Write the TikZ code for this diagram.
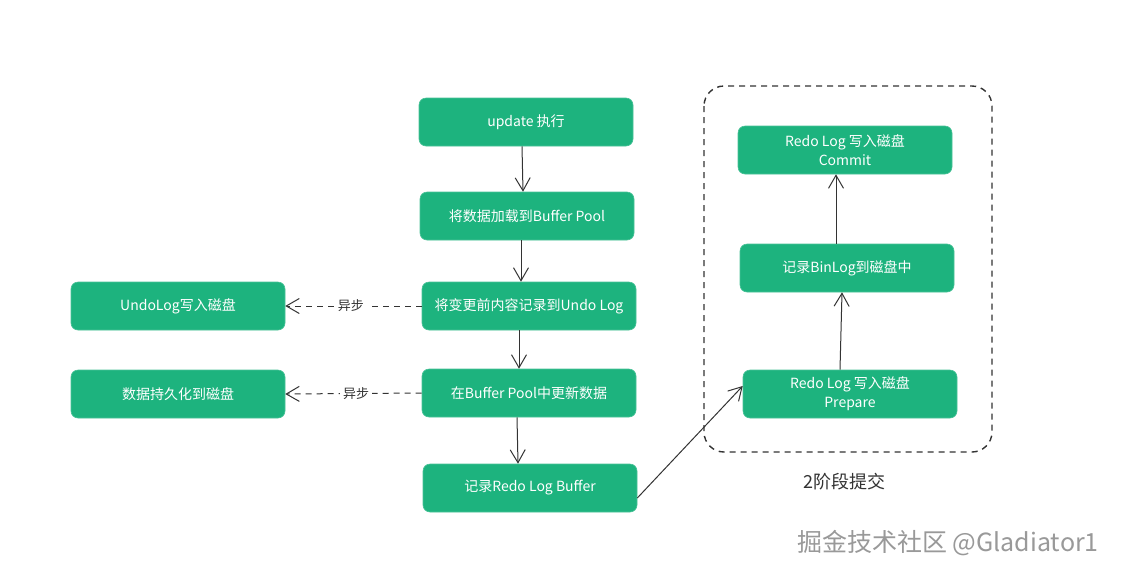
\documentclass[tikz,border=0pt]{standalone}
\usepackage{fontspec}
\setmainfont{Noto Sans CJK SC}
\usetikzlibrary{arrows.meta}
\definecolor{boxgreen}{HTML}{1DB37E}
\definecolor{linegray}{HTML}{333333}
\tikzset{
  stepbox/.style={draw=boxgreen!80!white, line width=0.6pt, fill=boxgreen, rounded corners=7pt,
    minimum width=214pt, minimum height=48pt, text=white, align=center,
    font=\fontsize{14}{18}\selectfont, inner sep=2pt},
  flow/.style={draw=linegray, line width=1pt, -{Straight Barb[length=13pt,width=15pt,line width=1pt]}},
  async/.style={flow, dash pattern=on 6pt off 5pt},
  lbl/.style={font=\fontsize{13}{15}\selectfont, text=linegray, fill=white, inner sep=3pt}
}
\begin{document}
\begin{tikzpicture}[x=1pt,y=-1pt]
\useasboundingbox (0,0) rectangle (1125,574);
\fill[white] (0,0) rectangle (1125,574);
% main column
\node[stepbox] (upd) at (526,122) {update 执行};
\node[stepbox] (load) at (527,216) {将数据加载到Buffer Pool};
\node[stepbox] (undo) at (529,306) {将变更前内容记录到Undo Log};
\node[stepbox] (upbuf) at (529,393) {在Buffer Pool中更新数据};
\node[stepbox] (redobuf) at (530,488) {记录Redo Log Buffer};
% left
\node[stepbox] (undodisk) at (178,306) {UndoLog写入磁盘};
\node[stepbox] (persist) at (178,394) {数据持久化到磁盘};
% right (2PC)
\node[stepbox] (commit) at (845,150) {Redo Log 写入磁盘\\[1pt]Commit};
\node[stepbox] (binlog) at (847,268) {记录BinLog到磁盘中};
\node[stepbox] (prepare) at (850,394) {Redo Log 写入磁盘\\[1pt]Prepare};
\draw[linegray, line width=1.4pt, dash pattern=on 6pt off 5pt, rounded corners=20pt]
  (704,86) rectangle (992,452);
\node[font=\fontsize{18}{21}\selectfont, text=linegray] (tpc) at (844,482) {2阶段提交};
% connectors
\draw[flow] ([xshift=-4pt]upd.south) -- ([xshift=-4pt]load.north);
\draw[flow] ([xshift=-6pt]load.south) -- ([xshift=-8pt]undo.north);
\draw[flow] ([xshift=-10pt]undo.south) -- ([xshift=-10pt]upbuf.north);
\draw[flow] ([xshift=-12pt]upbuf.south) -- ([xshift=-12pt]redobuf.north);
\draw[async] (undo.west) -- node[lbl, pos=0.52] (l1) {异步} (undodisk.east);
\draw[async] (upbuf.west) -- node[lbl, pos=0.48] (l2) {异步} (persist.east);
\draw[flow] ([yshift=-10pt]redobuf.east) -- ([yshift=8pt]prepare.west);
\draw[flow] ([xshift=-10pt]prepare.north) -- ([xshift=-5pt]binlog.south);
\draw[flow] ([xshift=-11pt]binlog.north) -- ([xshift=-9pt]commit.south);
% watermark
\node[anchor=west, font=\fontsize{25}{28}\selectfont, text=gray!80, inner sep=0pt] (wm) at (797,543) {掘金技术社区 @Gladiator1};
\end{tikzpicture}
\end{document}
